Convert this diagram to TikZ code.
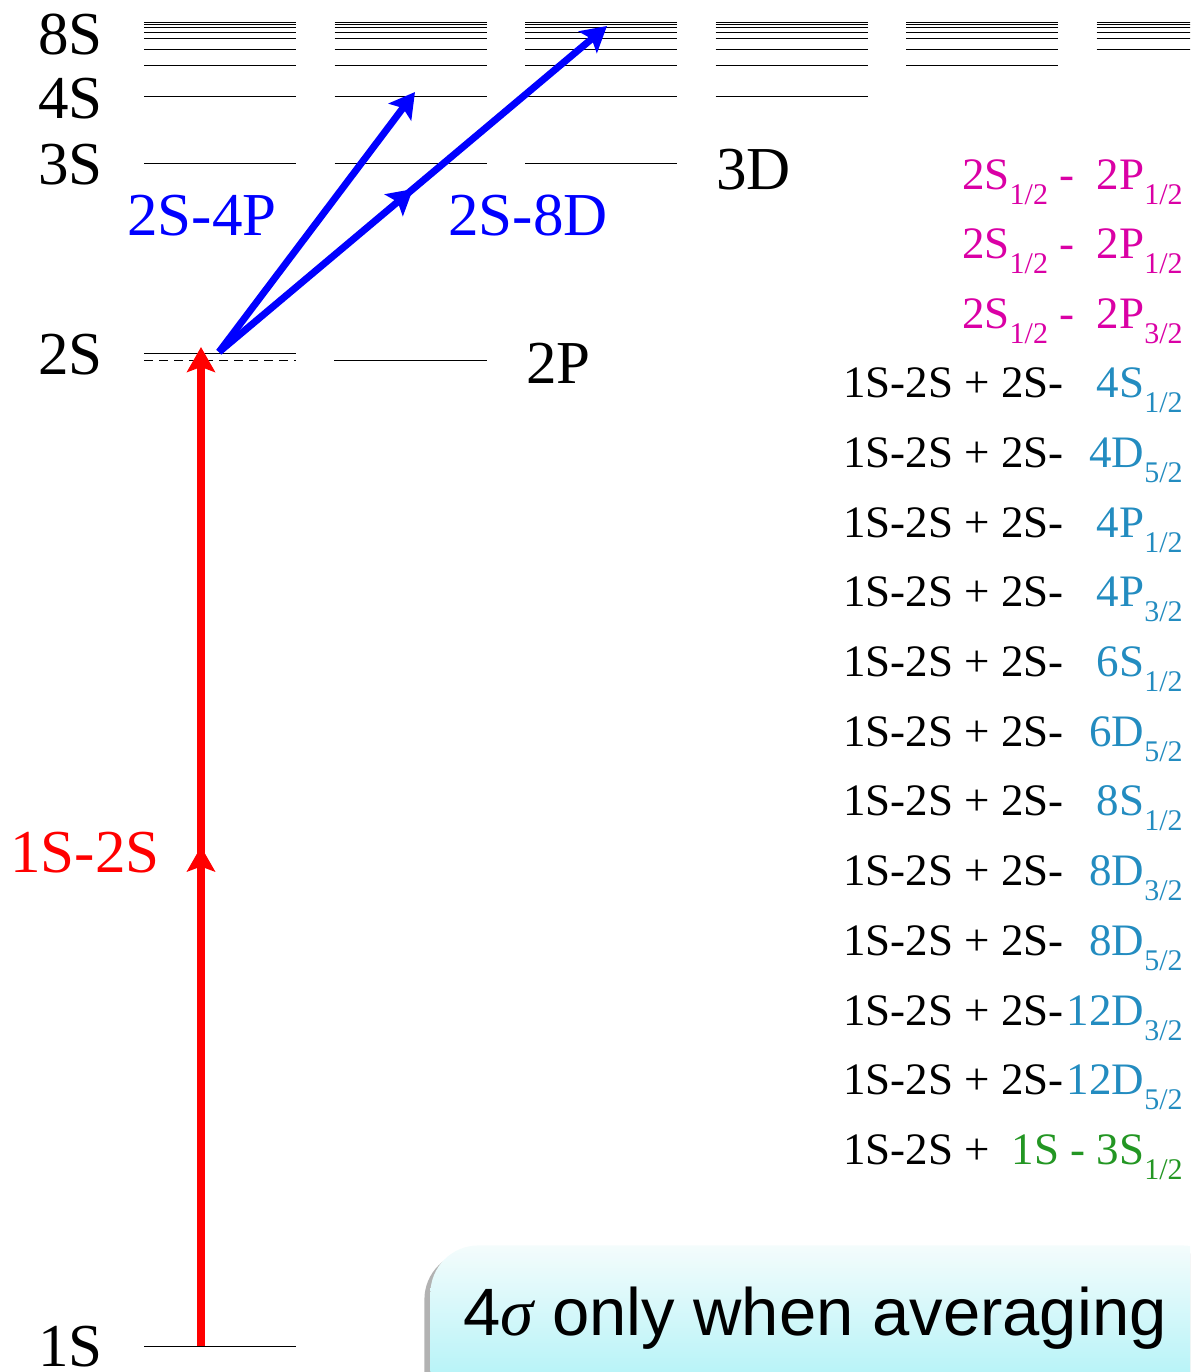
\documentclass[tikz,border=0pt]{standalone}
\usepackage{fontspec}
\setmainfont{Liberation Serif}
\setsansfont{Liberation Sans}
\usetikzlibrary{arrows.meta, decorations.markings, shadows}
\definecolor{pinkT}{RGB}{218,0,165}
\definecolor{tealT}{RGB}{35,140,192}
\definecolor{greenT}{RGB}{35,150,35}
\definecolor{callTop}{RGB}{244,252,252}
\definecolor{callBot}{RGB}{160,240,246}
\newcommand{\subsc}[1]{\raisebox{-7.5pt}{\fontsize{15}{15}\selectfont #1}}
\tikzset{
  lvl/.style={line width=0.5pt},
  big/.style={font=\fontsize{30.5}{30.5}\selectfont, inner sep=0pt},
  row/.style={font=\fontsize{22.5}{22.5}\selectfont, inner sep=0pt},
  tip/.style={-{Stealth[length=12.5pt, width=14pt, inset=2.5pt]}},
  midtip/.style={postaction=decorate, decoration={markings,
      mark=at position 0.5 with {\arrow{Stealth[length=12.5pt, width=14pt, inset=2.5pt]}}}},
  redarr/.style={tip, midtip, red, line width=4pt},
  bluearr/.style={tip, blue, line width=3.5pt},
  notebox/.style={rounded corners=24pt, top color=callTop, bottom color=callBot,
      drop shadow={shadow xshift=-3pt, shadow yshift=-3pt, opacity=0.3, fill=black}},
}

\begin{document}
\begin{tikzpicture}[x=0.5pt, y=-0.5pt]
  \useasboundingbox (0,0) rectangle (1190,1372);
  \clip (0,0) rectangle (1190,1372);

  \foreach \c in {0,...,5}{
    \pgfmathsetmacro{\xa}{144+190.5*\c}
    \pgfmathtruncatemacro{\nmin}{max(\c+1,3)}
    \foreach \n in {\nmin,...,11}{
      \pgfmathsetmacro{\yy}{11+1368/(\n*\n)}
      \draw[lvl] (\xa,\yy) -- ++(152,0);
    }
  }
  \draw[lvl] (144,1346) -- (296,1346);
  \draw[lvl] (144,353) -- (296,353);
  \draw[lvl, dash pattern=on 4.5pt off 3pt] (144,360) -- (296,360);
  \draw[lvl] (334,360) -- (487,360);

  \node[big, anchor=base east] (l8s) at (103,54) {8S};
  \node[big, anchor=base east] (l4s) at (103,118) {4S};
  \node[big, anchor=base east] (l3s) at (103,184) {3S};
  \node[big, anchor=base east] (l2s) at (103,374) {2S};
  \node[big, anchor=base east] (l1s) at (103,1366) {1S};
  \node[big, anchor=base west] (l3d) at (716,189) {3D};
  \node[big, anchor=base west] (l2p) at (526,383) {2P};

  \coordinate (oneS) at (201,1346);
  \coordinate (twoS) at (201,347);
  \coordinate (start) at (219,352);
  \coordinate (fourP) at (415,92);
  \coordinate (eightD) at (607,26);
  \draw[redarr] (oneS) -- (twoS);
  \draw[bluearr] (start) -- (fourP);
  \draw[bluearr, midtip] (start) -- (eightD);

  \node[big, red, anchor=base east] (t12) at (160,872) {1S-2S};
  \node[big, blue, anchor=base] (t24) at (202,235) {2S-4P};
  \node[big, blue, anchor=base] (t28) at (528,235) {2S-8D};

  \foreach \j [count=\k from 0] in {1,1,3}
    \node[row, pinkT, anchor=base east] (pk\k) at (1183,189+69.7*\k)
      {2S\subsc{1/2} -\hspace{0.5em}2P\subsc{\j/2}};
  \foreach \lev/\j [count=\k] in {4S/1,4D/5,4P/1,4P/3,6S/1,6D/5,8S/1,8D/3,8D/5,12D/3,12D/5}{
    \node[row, anchor=base west] (bk\k) at (843,328+69.7*\k) {1S-2S + 2S-};
    \node[row, tealT, anchor=base east] (ck\k) at (1183,328+69.7*\k) {\lev\subsc{\j/2}};
  }
  \node[row, anchor=base west] (bk12) at (843,1164) {1S-2S +};
  \node[row, greenT, anchor=base east] (ck12) at (1183,1164) {1S - 3S\subsc{1/2}};

  \node[notebox, anchor=north west, minimum width=400pt, minimum height=90pt] (box) at (430,1245) {};
  \node[font=\sffamily\fontsize{33.5}{33.5}\selectfont, inner sep=0pt, anchor=base] (note) at (815,1335)
    {4{\rmfamily\itshape σ} only when averaging};
\end{tikzpicture}
\end{document}
